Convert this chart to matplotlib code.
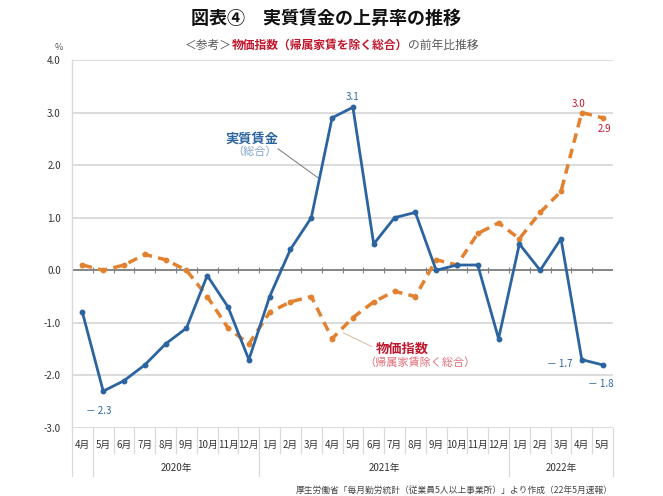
import matplotlib
matplotlib.use('Agg')
import matplotlib.pyplot as plt
import matplotlib.transforms as mtransforms
from matplotlib.offsetbox import TextArea, HPacker, AnnotationBbox

plt.rcParams['font.family'] = ['Noto Sans CJK JP', 'DejaVu Sans']

# データ（2020年4月～2022年5月、前年比 %）
months = ['4月', '5月', '6月', '7月', '8月', '9月', '10月', '11月', '12月',
          '1月', '2月', '3月', '4月', '5月', '6月', '7月', '8月', '9月', '10月', '11月', '12月',
          '1月', '2月', '3月', '4月', '5月']
years = ['2020年', '2021年', '2022年']
year_start = [1, 9, 21]   # 各年グループの先頭インデックス
year_end = [9, 21, 26]
wage = [-0.8, -2.3, -2.1, -1.8, -1.4, -1.1, -0.1, -0.7, -1.7,
        -0.5, 0.4, 1.0, 2.9, 3.1, 0.5, 1.0, 1.1, 0.0, 0.1, 0.1, -1.3,
        0.5, 0.0, 0.6, -1.7, -1.8]
price = [0.1, 0.0, 0.1, 0.3, 0.2, 0.0, -0.5, -1.1, -1.4,
         -0.8, -0.6, -0.5, -1.3, -0.9, -0.6, -0.4, -0.5, 0.2, 0.1, 0.7, 0.9,
         0.6, 1.1, 1.5, 3.0, 2.9]

blue = '#2b64a0'
orange = '#e2812f'
red = '#c0172d'
grid_c = '#d9d9d9'

fig = plt.figure(figsize=(6.63, 4.96), dpi=100)
ax = fig.add_axes([0.1086, 0.1371, 0.816, 0.742])

x = list(range(len(months)))

# 目盛線
for v in range(-3, 5):
    ax.axhline(v, color=grid_c, lw=1.3, zorder=1)
ax.axhline(0, color='#808080', lw=1.3, zorder=2)
ax.vlines([i + 0.5 for i in range(len(months) - 1)], -0.06, 0.06, color='#808080', lw=0.8, zorder=2)

# 系列
ax.plot(x, price, color=orange, lw=2.5, dashes=(2.8, 1.8), marker='o', markersize=3.2, zorder=3)
ax.plot(x, wage, color=blue, lw=2.0, marker='o', markersize=3.2, zorder=4)

ax.set_xlim(-0.5, len(months) - 0.5)
ax.set_ylim(-3, 4)
ax.set_yticks(range(-3, 5))
ax.set_yticklabels([f'{v:.1f}' for v in range(-3, 5)])
ax.tick_params(axis='y', length=0, pad=8, labelsize=7, labelcolor='#333333')
ax.set_xticks([])
for s in ['top', 'right', 'bottom']:
    ax.spines[s].set_visible(False)
ax.spines['left'].set_color(grid_c)
ax.spines['left'].set_linewidth(1.0)

# 軸ラベル（月・年）
trans = mtransforms.blended_transform_factory(ax.transData, ax.transAxes)
for i, m in enumerate(months):
    ax.text(i, -0.046, m, transform=trans, ha='center', va='center', fontsize=7, color='#333333')
for i in range(len(months) + 1):
    low = -0.13 if (i in year_start or i in year_end or i == 0) else -0.068
    ax.plot([i - 0.5, i - 0.5], [0, low], transform=trans, color=grid_c, lw=0.9, clip_on=False)
for y, s, e in zip(years, year_start, year_end):
    ax.text((s + e - 1) / 2, -0.109, y, transform=trans, ha='center', va='center', fontsize=7, color='#333333')

ax.text(-1.15, 4.24, '%', ha='center', va='center', fontsize=6.5, color='#555555')

# データラベル
def lab(txt, xi, yv, dx, dy, color, ha='center'):
    ax.annotate(txt, (xi, yv), xytext=(dx, dy), textcoords='offset points',
                ha=ha, va='center', fontsize=7, color=color, zorder=5)

lab('－ 2.3', 1, wage[1], -3, -14, blue)
lab('3.1', 13, wage[13], 0, 7.5, blue)
lab('－ 1.7', 24, wage[24], -7, -3, blue, ha='right')
lab('－ 1.8', 25, wage[25], -1, -14, blue)
lab('3.0', 24, price[24], -2, 6.5, red)
lab('2.9', 25, price[25], 1, -8, red)

# 系列名
ax.text(8.14, 2.5, '実質賃金', ha='center', va='center', fontsize=9.5, fontweight='bold', color=blue)
ax.text(8.25, 2.26, '（総合）', ha='center', va='center', fontsize=8, color='#7fa2c8')
ax.plot([9.4, 11.32], [2.31, 1.76], color='#777777', lw=0.7, zorder=3)
ax.text(15.39, -1.5, '物価指数', ha='center', va='center', fontsize=9.5, fontweight='bold', color=red)
ax.text(16.2, -1.76, '（帰属家賃除く総合）', ha='center', va='center', fontsize=8, color='#e0707a')
ax.plot([12.54, 13.9], [-1.19, -1.45], color='#d9b99b', lw=0.7, zorder=3)

# タイトル
fig.text(0.492, 1 - 18 / 496, '図表④　実質賃金の上昇率の推移', ha='center', va='center',
         fontsize=13, fontweight='bold', color='#111111')
parts = [TextArea('＜参考＞', textprops=dict(fontsize=8.5, color='#595959')),
         TextArea('物価指数（帰属家賃を除く総合）', textprops=dict(fontsize=8.5, color=red, fontweight='bold')),
         TextArea('の前年比推移', textprops=dict(fontsize=8.5, color='#595959'))]
box = HPacker(children=parts, pad=0, sep=0)
fig.add_artist(AnnotationBbox(box, (0.5, 1 - 45 / 496), xycoords='figure fraction',
                              frameon=False, box_alignment=(0.5, 0.5)))

fig.text(613 / 663, 1 - 490 / 496, '厚生労働省「毎月勤労統計（従業員5人以上事業所）」より作成（22年5月速報）',
         ha='right', va='center', fontsize=6.3, color='#444444')

fig.savefig('out.png', dpi=100)
